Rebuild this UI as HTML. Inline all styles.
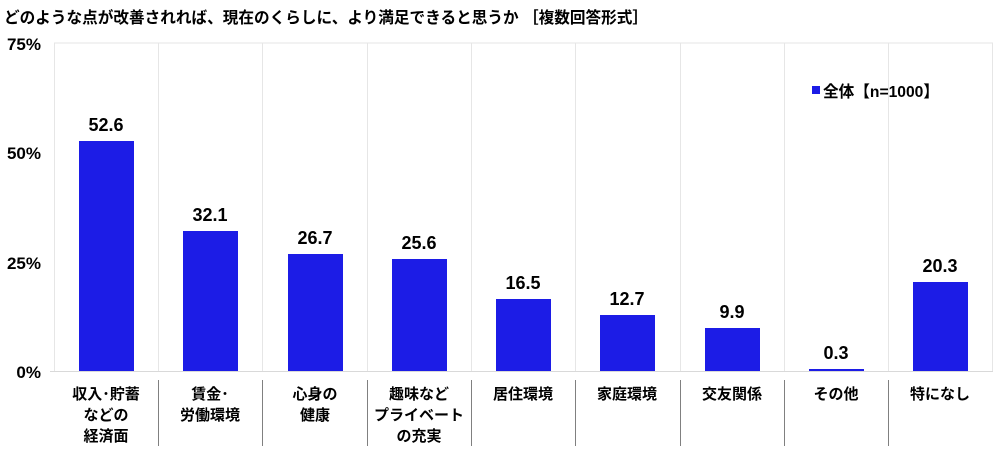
<!DOCTYPE html>
<html><head><meta charset="utf-8"><style>
body{margin:0;background:#fff;width:1000px;height:446px;overflow:hidden}
svg text{font-family:"Liberation Sans","Noto Sans CJK JP",sans-serif;font-weight:bold;fill:#000}
</style></head><body>
<svg width="1000" height="446" viewBox="0 0 1000 446" xmlns="http://www.w3.org/2000/svg">
<text x="4" y="23" font-size="16" textLength="644" lengthAdjust="spacingAndGlyphs">どのような点が改善されれば、現在のくらしに、より満足できると思うか ［複数回答形式］</text>
<g stroke="#e6e6e6" stroke-width="1">
<line x1="54" y1="43" x2="993" y2="43"/>
<line x1="54.5" y1="43" x2="54.5" y2="371"/><line x1="158.5" y1="43" x2="158.5" y2="371"/><line x1="262.5" y1="43" x2="262.5" y2="371"/><line x1="367.5" y1="43" x2="367.5" y2="371"/><line x1="471.5" y1="43" x2="471.5" y2="371"/><line x1="575.5" y1="43" x2="575.5" y2="371"/><line x1="680.5" y1="43" x2="680.5" y2="371"/><line x1="784.5" y1="43" x2="784.5" y2="371"/><line x1="888.5" y1="43" x2="888.5" y2="371"/><line x1="992.5" y1="43" x2="992.5" y2="371"/>
</g>
<line x1="50" y1="371.5" x2="993" y2="371.5" stroke="#d9d9d9"/>
<g stroke="#808080" stroke-width="1">
<line x1="158.5" y1="380" x2="158.5" y2="446"/><line x1="262.5" y1="380" x2="262.5" y2="446"/><line x1="367.5" y1="380" x2="367.5" y2="446"/><line x1="471.5" y1="380" x2="471.5" y2="446"/><line x1="575.5" y1="380" x2="575.5" y2="446"/><line x1="680.5" y1="380" x2="680.5" y2="446"/><line x1="784.5" y1="380" x2="784.5" y2="446"/><line x1="888.5" y1="380" x2="888.5" y2="446"/>
</g>
<g font-size="17" text-anchor="end">
<text x="41" y="50">75%</text><text x="41" y="159">50%</text><text x="41" y="269">25%</text><text x="41" y="378">0%</text>
</g>
<g fill="#1c1ce6">
<rect x="79" y="141" width="55" height="230"/>
<rect x="183" y="231" width="55" height="140"/>
<rect x="288" y="254" width="55" height="117"/>
<rect x="392" y="259" width="55" height="112"/>
<rect x="496" y="299" width="55" height="72"/>
<rect x="600" y="315" width="55" height="56"/>
<rect x="705" y="328" width="55" height="43"/>
<rect x="809" y="369" width="55" height="2"/>
<rect x="913" y="282" width="55" height="89"/>
</g>
<g font-size="18" text-anchor="middle">
<text x="106" y="131">52.6</text><text x="210" y="221">32.1</text><text x="315" y="244">26.7</text><text x="419" y="249">25.6</text><text x="523" y="289">16.5</text><text x="627" y="305">12.7</text><text x="732" y="318">9.9</text><text x="836" y="359">0.3</text><text x="940" y="272">20.3</text>
</g>
<g font-size="15" text-anchor="middle">
<text x="106" y="399">収入･貯蓄</text><text x="106" y="420">などの</text><text x="106" y="441">経済面</text>
<text x="210" y="399">賃金･</text><text x="210" y="420">労働環境</text>
<text x="315" y="399">心身の</text><text x="315" y="420">健康</text>
<text x="419" y="399">趣味など</text><text x="419" y="420">プライベート</text><text x="419" y="441">の充実</text>
<text x="523" y="399">居住環境</text>
<text x="627" y="399">家庭環境</text>
<text x="732" y="399">交友関係</text>
<text x="836" y="399">その他</text>
<text x="940" y="399">特になし</text>
</g>
<rect x="812" y="86" width="8" height="8" fill="#1c1ce6"/>
<text x="823" y="97" font-size="16" textLength="116" lengthAdjust="spacingAndGlyphs">全体【n=1000】</text>
</svg>
</body></html>
